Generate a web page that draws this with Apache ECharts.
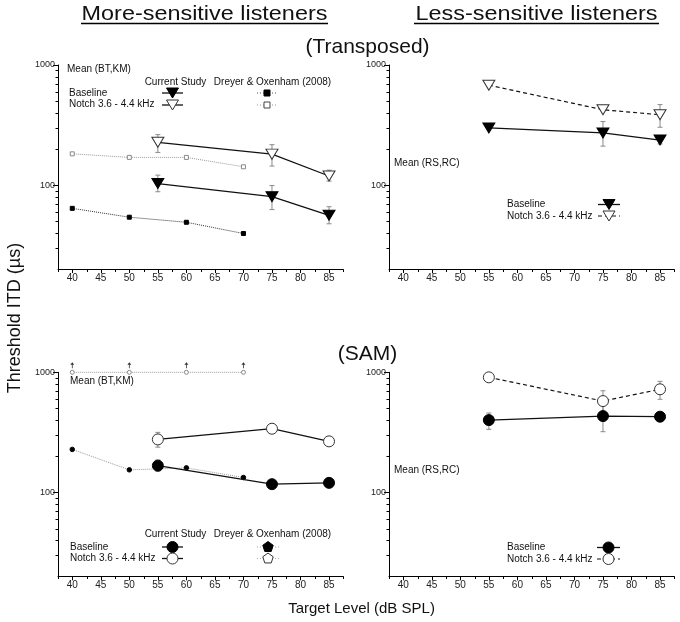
<!DOCTYPE html>
<html><head><meta charset="utf-8">
<script src="https://cdn.jsdelivr.net/npm/echarts@6/dist/echarts.min.js"></script>
<style>html,body{margin:0;padding:0;background:#fff}#c{width:680px;height:622px}</style>
</head><body><div id="c"></div><script>
// ---------- data ----------
const levelsCurrent = [55, 75, 85];
const levelsDO = [40, 50, 60, 70];
const xTickLabels = [40, 45, 50, 55, 60, 65, 70, 75, 80, 85];
const xMinorTicks = [37.5, 42.5, 47.5, 52.5, 57.5, 62.5, 67.5, 72.5, 77.5, 82.5, 87.5];
const yTickLabels = [100, 1000];
const yMinorTicks = [30, 40, 50, 60, 70, 80, 90, 200, 300, 400, 500, 600, 700, 800, 900];

// Transposed, more-sensitive listeners
const trMoreBase = [103, 80, 56];
const trMoreBaseLo = [88, 62.5, 47.6];
const trMoreBaseHi = [121, 99, 66];
const trMoreNotch = [227, 181, 119];
const trMoreNotchLo = [187, 144, 108];
const trMoreNotchHi = [263, 217, 133];
const trMoreDOBase = [64, 54, 49, 39.5];
const trMoreDONotch = [182, 170, 170, 142];

// Transposed, less-sensitive listeners
const trLessBase = [299, 272, 237];
const trLessBaseLo = [null, 211, 220];
const trLessBaseHi = [null, 338, 258];
const trLessNotch = [679, 424, 385];
const trLessNotchLo = [null, null, 303];
const trLessNotchHi = [null, null, 468];

// SAM, more-sensitive listeners
const samMoreBase = [167, 117, 120];
const samMoreBaseLo = [150, null, 111];
const samMoreBaseHi = [186, null, 130];
const samMoreNotch = [276, 339, 266];
const samMoreNotchLo = [238, null, null];
const samMoreNotchHi = [316, null, null];
const samMoreDOBase = [228, 154, 160, 133];
const samMoreDONotch = [1000, 1000, 1000, 1000];

// SAM, less-sensitive listeners
const samLessBase = [400, 432, 427];
const samLessBaseLo = [335, 320, 388];
const samLessBaseHi = [458, 558, 458];
const samLessNotch = [908, 576, 722];
const samLessNotchLo = [null, 470, 596];
const samLessNotchHi = [null, 702, 841];

// ---------- helpers ----------
const FONT = 'Liberation Sans, Arial, Helvetica, sans-serif';
const X_MIN = 37.5, X_MAX = 87.5, Y_MIN = 20, Y_MAX = 1000;
const TRI_DOWN = 'path://M0,0L12,0L6,10Z';
const ARROW_UP = 'path://M5,0L10,5L6,5L6,12L4,12L4,5L0,5Z';
const zip = (xs, ys) => xs.map((x, i) => [x, ys[i]]);
const errData = (xs, lo, hi) => xs.map((x, i) => (lo[i] == null || hi[i] == null) ? null : [x, lo[i], hi[i]]).filter(d => d);

const grids = [
  {left: 58, top: 65, width: 285.3, height: 204},
  {left: 389, top: 65, width: 285.3, height: 204},
  {left: 58, top: 372.3, width: 285.3, height: 204},
  {left: 389, top: 372.3, width: 285.3, height: 204}
];

const xAxes = [], yAxes = [];
grids.forEach((g, i) => {
  xAxes.push({
    type: 'value', gridIndex: i, min: X_MIN, max: X_MAX,
    axisLine: {show: true, onZero: false, lineStyle: {color: '#000', width: 1}},
    axisTick: {show: true, length: 4, customValues: xTickLabels, lineStyle: {color: '#000'}},
    axisLabel: {customValues: xTickLabels, fontSize: 10, color: '#222', margin: 4, fontFamily: FONT},
    splitLine: {show: false}
  });
  yAxes.push({
    type: 'log', logBase: 10, gridIndex: i, min: Y_MIN, max: Y_MAX,
    axisLine: {show: true, lineStyle: {color: '#000', width: 1}},
    axisTick: {show: true, length: 5, customValues: yTickLabels, lineStyle: {color: '#000'}},
    axisLabel: {customValues: yTickLabels, fontSize: 9, color: '#222', margin: 3, fontFamily: FONT,
      formatter: v => String(Math.round(v))},
    splitLine: {show: false}
  });
});

function renderErr(params, api) {
  const x = api.value(0), lo = api.value(1), hi = api.value(2);
  const p1 = api.coord([x, lo]), p2 = api.coord([x, hi]);
  const w = 2.5;
  const style = {stroke: '#8a8a8a', lineWidth: 1};
  return {type: 'group', children: [
    {type: 'line', shape: {x1: p1[0], y1: p1[1], x2: p2[0], y2: p2[1]}, style},
    {type: 'line', shape: {x1: p1[0] - w, y1: p1[1], x2: p1[0] + w, y2: p1[1]}, style},
    {type: 'line', shape: {x1: p2[0] - w, y1: p2[1], x2: p2[0] + w, y2: p2[1]}, style}
  ]};
}
function errSeries(gi, xs, lo, hi) {
  return {type: 'custom', xAxisIndex: gi, yAxisIndex: gi, renderItem: renderErr,
    data: errData(xs, lo, hi), encode: {x: 0, y: [1, 2]}, z: 1, clip: false, silent: true};
}
// minor ticks drawn through each panel's own axes
function renderMinor(params, api) {
  const c = api.coord([api.value(0), api.value(1)]);
  const isX = api.value(2) === 1;
  const x = Math.round(c[0]) + 0.5, y = Math.round(c[1]) + 0.5;
  return {type: 'group', children: [{type: 'line',
    shape: isX ? {x1: x, y1: y, x2: x, y2: y + 2.5} : {x1: x - 3, y1: y, x2: x, y2: y},
    style: {stroke: '#000', lineWidth: 1}}]};
}
function minorSeries(gi) {
  const data = yMinorTicks.map(v => [X_MIN, v, 0]).concat(xMinorTicks.map(v => [v, Y_MIN, 1]));
  return {type: 'custom', xAxisIndex: gi, yAxisIndex: gi, renderItem: renderMinor,
    data: data, encode: {x: 0, y: 1}, z: 8, clip: false, silent: true};
}
function lineSeries(gi, xs, ys, o) {
  return {
    type: 'line', xAxisIndex: gi, yAxisIndex: gi, data: zip(xs, ys),
    symbol: o.symbol, symbolSize: o.size, showSymbol: true, clip: false, silent: true, animation: false,
    itemStyle: {color: o.fill, borderColor: o.stroke, borderWidth: o.bw == null ? 1 : o.bw},
    lineStyle: {color: o.lineColor, width: o.lw || 1, type: o.lineType || 'solid'},
    z: o.z || 3
  };
}
const openTri = {symbol: TRI_DOWN, size: [12, 10], fill: '#fff', stroke: '#333', lineColor: '#111', lw: 1.3, z: 4};
const fillTri = {symbol: TRI_DOWN, size: [12, 10], fill: '#000', stroke: '#000', lineColor: '#111', lw: 1.3, z: 4};
const openCirc = {symbol: 'circle', size: 11, fill: '#fff', stroke: '#333', lineColor: '#111', lw: 1.3, z: 4};
const fillCirc = {symbol: 'circle', size: 11, fill: '#000', stroke: '#000', lineColor: '#111', lw: 1.3, z: 4};

const series = [
  minorSeries(0), minorSeries(1), minorSeries(2), minorSeries(3),
  // panel 0: Transposed, more-sensitive
  lineSeries(0, levelsDO, trMoreDONotch, {symbol: 'rect', size: 4, fill: '#fff', stroke: '#888', lineColor: '#999', lineType: 'dotted'}),
  lineSeries(0, levelsDO, trMoreDOBase, {symbol: 'rect', size: 4, fill: '#000', stroke: '#000', lineColor: '#333', lineType: 'dotted'}),
  errSeries(0, levelsCurrent, trMoreNotchLo, trMoreNotchHi),
  errSeries(0, levelsCurrent, trMoreBaseLo, trMoreBaseHi),
  lineSeries(0, levelsCurrent, trMoreNotch, openTri),
  lineSeries(0, levelsCurrent, trMoreBase, fillTri),
  // panel 1: Transposed, less-sensitive
  errSeries(1, levelsCurrent, trLessNotchLo, trLessNotchHi),
  errSeries(1, levelsCurrent, trLessBaseLo, trLessBaseHi),
  lineSeries(1, levelsCurrent, trLessNotch, Object.assign({}, openTri, {lineType: [4, 3], lw: 1.2})),
  lineSeries(1, levelsCurrent, trLessBase, fillTri),
  // panel 2: SAM, more-sensitive
  lineSeries(2, levelsDO, samMoreDONotch, {symbol: 'circle', size: 4, fill: '#fff', stroke: '#888', lineColor: '#999', lineType: 'dotted'}),
  {type: 'scatter', xAxisIndex: 2, yAxisIndex: 2, data: zip(levelsDO, samMoreDONotch), symbol: ARROW_UP,
    symbolSize: [4, 6], symbolOffset: [0, -7], itemStyle: {color: '#000'}, clip: false, silent: true, z: 5},
  lineSeries(2, levelsDO, samMoreDOBase, {symbol: 'circle', size: 4.5, fill: '#000', stroke: '#000', lineColor: '#999', lineType: 'dotted'}),
  errSeries(2, levelsCurrent, samMoreNotchLo, samMoreNotchHi),
  errSeries(2, levelsCurrent, samMoreBaseLo, samMoreBaseHi),
  lineSeries(2, levelsCurrent, samMoreNotch, openCirc),
  lineSeries(2, levelsCurrent, samMoreBase, fillCirc),
  // panel 3: SAM, less-sensitive
  errSeries(3, levelsCurrent, samLessNotchLo, samLessNotchHi),
  errSeries(3, levelsCurrent, samLessBaseLo, samLessBaseHi),
  lineSeries(3, levelsCurrent, samLessNotch, Object.assign({}, openCirc, {lineType: [4, 3], lw: 1.2})),
  lineSeries(3, levelsCurrent, samLessBase, fillCirc)
];

// ---------- text & legend graphics ----------
const G = [];
function txt(t, x, y, size, align, extra) {
  G.push(Object.assign({type: 'text', x: x, y: y, silent: true,
    style: {text: t, x: 0, y: 0, fill: '#111', font: size + 'px ' + FONT, align: align || 'left', verticalAlign: 'middle'}}, extra || {}));
}
function seg(x1, x2, y, color, dash, w) {
  G.push({type: 'line', silent: true, shape: {x1: x1, y1: y, x2: x2, y2: y},
    style: {stroke: color, lineWidth: w || 1, lineDash: dash || null}});
}
function tri(cx, cy, filled) {
  G.push({type: 'polygon', silent: true, z: 10, shape: {points: [[cx - 6, cy - 5], [cx + 6, cy - 5], [cx, cy + 5]]},
    style: {fill: filled ? '#000' : '#fff', stroke: filled ? '#000' : '#333', lineWidth: 1}});
}
function sq(cx, cy, filled) {
  G.push({type: 'rect', silent: true, z: 10, shape: {x: cx - 3, y: cy - 3, width: 6, height: 6},
    style: {fill: filled ? '#000' : '#fff', stroke: filled ? '#000' : '#444', lineWidth: 1}});
}
function circ(cx, cy, filled) {
  G.push({type: 'circle', silent: true, z: 10, shape: {cx: cx, cy: cy, r: 5.5},
    style: {fill: filled ? '#000' : '#fff', stroke: filled ? '#000' : '#333', lineWidth: 1}});
}
function penta(cx, cy, filled) {
  const pts = [];
  for (let k = 0; k < 5; k++) { const a = -Math.PI / 2 + k * 2 * Math.PI / 5; pts.push([cx + 5.5 * Math.cos(a), cy + 5.5 * Math.sin(a)]); }
  G.push({type: 'polygon', silent: true, z: 10, shape: {points: pts},
    style: {fill: filled ? '#000' : '#fff', stroke: filled ? '#000' : '#333', lineWidth: 1}});
}

// titles
txt('More-sensitive listeners', 204.5, 14, 20, 'center', {scaleX: 1.17});
txt('Less-sensitive listeners', 536.5, 14, 20, 'center', {scaleX: 1.17});
seg(81, 328, 23.5, '#000', null, 1.3);
seg(414, 659, 23.5, '#000', null, 1.3);
txt('(Transposed)', 367.5, 47, 21, 'center');
txt('(SAM)', 367.5, 354, 21, 'center');
txt('Threshold ITD (\u00b5s)', 15, 318, 18, 'center', {rotation: Math.PI / 2});
txt('Target Level (dB SPL)', 361.5, 609, 15, 'center');

// panel 0 legend
txt('Mean (BT,KM)', 67, 69, 10);
txt('Current Study', 175.5, 82, 10, 'center');
txt('Dreyer & Oxenham (2008)', 272.5, 82, 10, 'center');
txt('Baseline', 69, 93, 10);
txt('Notch 3.6 - 4.4 kHz', 69, 104.5, 10);
seg(162, 183, 93, '#111', null, 1.3); tri(172.5, 93, true);
seg(162, 183, 105, '#111', null, 1.3); tri(172.5, 105, false);
seg(257, 277, 93, '#555', [1, 2]); sq(267, 93, true);
seg(257, 277, 105, '#999', [1, 2]); sq(267, 105, false);

// panel 1 legend
txt('Mean (RS,RC)', 394, 163, 10);
txt('Baseline', 507, 204.5, 10);
txt('Notch 3.6 - 4.4 kHz', 507, 216, 10);
seg(598, 620, 204.5, '#111', null, 1.3); tri(609, 204.5, true);
seg(598, 620, 216, '#111', [4, 3], 1.2); tri(609, 216, false);

// panel 2 legend
txt('Mean (BT,KM)', 70, 381, 10);
txt('Current Study', 175.5, 534.5, 10, 'center');
txt('Dreyer & Oxenham (2008)', 272.5, 534.5, 10, 'center');
txt('Baseline', 70, 547, 10);
txt('Notch 3.6 - 4.4 kHz', 70, 558.5, 10);
seg(162, 183, 547, '#111', null, 1.3); circ(172.5, 547, true);
seg(162, 183, 558.5, '#111', null, 1.3); circ(172.5, 558.5, false);
seg(257, 279, 547, '#aaa', [1, 2]); penta(268, 547, true);
seg(257, 279, 558.5, '#aaa', [1, 2]); penta(268, 558.5, false);

// panel 3 legend
txt('Mean (RS,RC)', 394, 470, 10);
txt('Baseline', 507, 547.5, 10);
txt('Notch 3.6 - 4.4 kHz', 507, 559, 10);
seg(597, 620, 547.5, '#111', null, 1.3); circ(608.5, 547.5, true);
seg(597, 620, 559, '#111', [4, 3], 1.2); circ(608.5, 559, false);

const chart = echarts.init(document.getElementById('c'), null, {renderer: 'canvas'});
chart.setOption({
  animation: false,
  backgroundColor: '#fff',
  textStyle: {fontFamily: FONT},
  grid: grids,
  xAxis: xAxes,
  yAxis: yAxes,
  series: series,
  graphic: {elements: G}
});
</script></body></html>
